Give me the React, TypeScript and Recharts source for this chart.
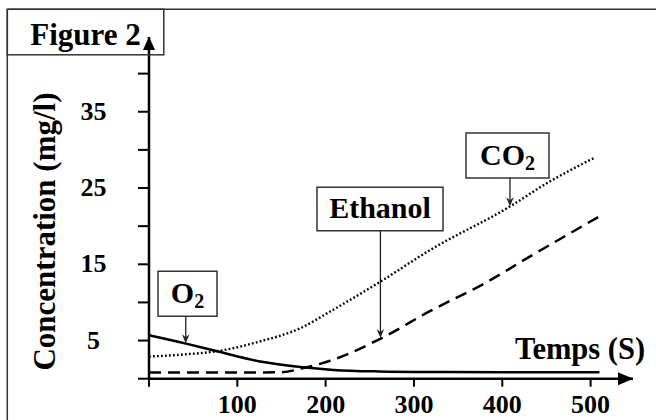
import React from "react";
import { LineChart, Line, XAxis, YAxis, ReferenceArea, ReferenceLine } from "recharts";

// ---------------------------------------------------------------------------
// Data
// ---------------------------------------------------------------------------

const o2Time = [0, 42, 77, 126, 175, 209, 260, 320, 400, 510];
const o2Conc = [5.7, 4.6, 3.6, 2.25, 1.5, 1.15, 0.95, 0.88, 0.86, 0.85];

const co2Time = [0, 42, 77, 126, 171, 205, 263, 318, 409, 450, 505];
const co2Conc = [2.9, 3.2, 3.6, 4.9, 6.6, 8.8, 12.8, 16.85, 22.6, 25.6, 29.0];

const ethTime = [0, 80, 150, 175, 205, 263, 318, 380, 431, 514];
const ethConc = [0.8, 0.8, 0.85, 1.4, 2.35, 5.3, 8.85, 12.5, 16.0, 21.55];

const xTicks = [0, 100, 200, 300, 400, 500];
const yTicks = [0, 5, 10, 15, 20, 25, 30, 35, 40];
const yLabelled = [5, 15, 25, 35];

// ---------------------------------------------------------------------------
// Helpers
// ---------------------------------------------------------------------------

const FONT = '"Liberation Serif", "Times New Roman", serif';

const zip = (ts: number[], vs: number[]) => ts.map((t, i) => ({ t, v: vs[i] }));

const o2Data = zip(o2Time, o2Conc);
const co2Data = zip(co2Time, co2Conc);
const ethData = zip(ethTime, ethConc);

function XTick(props: any) {
	const { x, y, payload } = props;
	if (payload.value === 0) return <g />;
	return (
		<text x={x} y={y + 26.5} textAnchor="middle" fontFamily={FONT} fontWeight="bold" fontSize={26} fill="#000">
			{payload.value}
		</text>
	);
}

function YTick(props: any) {
	const { x, y, payload } = props;
	if (!yLabelled.includes(payload.value)) return <g />;
	return (
		<text x={x - 44.5} y={y + 8} textAnchor="middle" fontFamily={FONT} fontWeight="bold" fontSize={26} fill="#000">
			{payload.value}
		</text>
	);
}

// label drawn inside an annotation box
function boxLabel(main: string, sub?: string) {
	return (p: any) => {
		const vb = p.viewBox;
		const cx = vb.x + vb.width / 2;
		const cy = vb.y + vb.height / 2;
		return (
			<text x={cx} y={cy + 9.5} textAnchor="middle" fontFamily={FONT} fontWeight="bold" fontSize={30} fill="#000">
				{main}
				{sub ? (
					<tspan fontSize={20} dy={5}>
						{sub}
					</tspan>
				) : null}
			</text>
		);
	};
}

function ArrowShape(p: any) {
	const { x1, y1, x2, y2 } = p;
	if (x1 == null || y1 == null) return <g />;
	const top = Math.min(y1, y2);
	const tip = Math.max(y1, y2);
	const x = x1;
	return (
		<g>
			<line x1={x} y1={top} x2={x} y2={tip - 5} stroke="#222" strokeWidth={1.3} />
			<path d={`M${x - 3.8},${tip - 9} L${x},${tip} L${x + 3.8},${tip - 9} L${x},${tip - 6} Z`} fill="#222" />
		</g>
	);
}

// ---------------------------------------------------------------------------
// Component
// ---------------------------------------------------------------------------

export default function App() {
	const boxStyle = { fill: "#fff", fillOpacity: 1, stroke: "#333", strokeWidth: 1.5 };

	return (
		<div style={{ position: "absolute", left: 0, top: 0, width: 656, height: 420, background: "#fff" }}>
			<LineChart width={656} height={420} margin={{ top: 37, right: 23, bottom: 0, left: 0 }}>
				<XAxis
					type="number"
					dataKey="t"
					domain={[0, 548]}
					ticks={xTicks}
					interval={0}
					height={41.3}
					tickSize={8}
					tickMargin={0}
					axisLine={{ stroke: "#000", strokeWidth: 2.5 }}
					tickLine={{ stroke: "#000", strokeWidth: 2 }}
					tick={(p: any) => <XTick {...p} />}
				/>
				<YAxis
					type="number"
					dataKey="v"
					domain={[0, 44.8]}
					ticks={yTicks}
					interval={0}
					width={149}
					tickSize={11}
					tickMargin={0}
					axisLine={{ stroke: "#000", strokeWidth: 2.5 }}
					tickLine={{ stroke: "#000", strokeWidth: 2 }}
					tick={(p: any) => <YTick {...p} />}
				/>

				<ReferenceArea x1={10.2} x2={77} y1={8.2} y2={14.1} {...boxStyle} label={{ content: boxLabel("O", "2") }} />
				<ReferenceArea x1={190.2} x2={332.9} y1={19.4} y2={25.1} {...boxStyle} label={{ content: boxLabel("Ethanol") }} />
				<ReferenceArea x1={358.9} x2={452.9} y1={26.3} y2={32.2} {...boxStyle} label={{ content: boxLabel("CO", "2") }} />

				<ReferenceLine segment={[{ x: 41.6, y: 8.2 }, { x: 41.6, y: 4.66 }]} shape={ArrowShape} />
				<ReferenceLine segment={[{ x: 262, y: 19.4 }, { x: 262, y: 5.34 }]} shape={ArrowShape} />
				<ReferenceLine segment={[{ x: 408.7, y: 26.3 }, { x: 408.7, y: 22.6 }]} shape={ArrowShape} />

				<Line data={o2Data} dataKey="v" type="monotone" stroke="#000" strokeWidth={2.5} dot={false} isAnimationActive={false} />
				<Line
					data={co2Data}
					dataKey="v"
					type="monotone"
					stroke="#000"
					strokeWidth={2.4}
					strokeDasharray="1.8 2.2"
					dot={false}
					isAnimationActive={false}
				/>
				<Line
					data={ethData}
					dataKey="v"
					type="monotone"
					stroke="#000"
					strokeWidth={2.5}
					strokeDasharray="12 7"
					dot={false}
					isAnimationActive={false}
				/>
			</LineChart>

			<svg width={656} height={420} style={{ position: "absolute", left: 0, top: 0, pointerEvents: "none" }}>
				{/* outer frame */}
				<line x1={7.3} y1={9.3} x2={656} y2={9.3} stroke="#333" strokeWidth={1.5} />
				<line x1={7.3} y1={9.3} x2={7.3} y2={420} stroke="#333" strokeWidth={1.5} />
				{/* title box */}
				<rect x={7.3} y={9.3} width={156.5} height={45.5} fill="none" stroke="#333" strokeWidth={1.5} />
				<text x={85.5} y={45} textAnchor="middle" fontFamily={FONT} fontWeight="bold" fontSize={31} fill="#000">
					Figure 2
				</text>
				{/* axis arrow heads */}
				<path d="M143,50 L149,36.7 L155,50 Z" fill="#000" />
				<path d="M618,372.2 L633.3,378.7 L618,385.2 Z" fill="#000" />
				{/* axis titles */}
				<text
					transform="translate(55,231.5) rotate(-90)"
					textAnchor="middle"
					fontFamily={FONT}
					fontWeight="bold"
					fontSize={31}
					fill="#000"
				>
					Concentration (mg/l)
				</text>
				<text x={580} y={359.3} textAnchor="middle" fontFamily={FONT} fontWeight="bold" fontSize={30.5} fill="#000">
					Temps (S)
				</text>
			</svg>
		</div>
	);
}
